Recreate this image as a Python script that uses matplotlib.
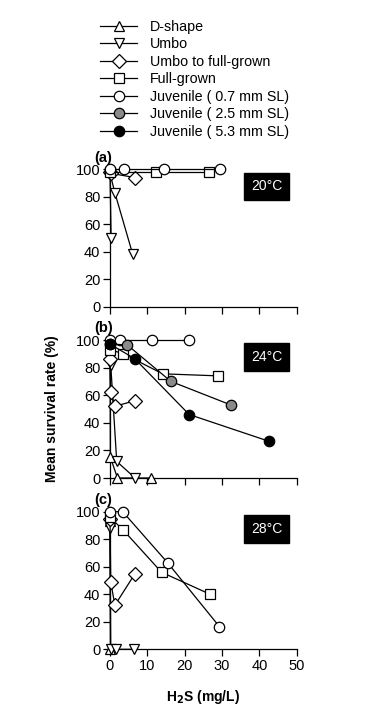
import matplotlib
matplotlib.use("Agg")
import matplotlib.pyplot as plt
from matplotlib.lines import Line2D

plt.rcParams['font.family'] = ['Liberation Sans', 'DejaVu Sans']

# ---------------- data ----------------
stage_labels = ["D-shape", "Umbo", "Umbo to full-grown", "Full-grown",
                "Juvenile ( 0.7 mm SL)", "Juvenile ( 2.5 mm SL)", "Juvenile ( 5.3 mm SL)"]
temps = ["20°C", "24°C", "28°C"]
panel_tags = ["(a)", "(b)", "(c)"]
x_ticks = [0, 10, 20, 30, 40, 50]
y_ticks = [0, 20, 40, 60, 80, 100]

# panel (a) 20°C
a_umbo1_x = [0, 0.3];            a_umbo1_y = [97, 50]
a_umbo2_x = [0, 1.3, 6.1];       a_umbo2_y = [97, 83, 38]
a_ufg_x = [0, 0.3, 6.7];         a_ufg_y = [98, 97, 94]
a_full_x = [0, 12.3, 26.6];      a_full_y = [98, 98, 98]
a_j07_x = [0, 3.7, 14.5, 29.5];  a_j07_y = [100, 100, 100, 100]

# panel (b) 24°C
b_dsh_x = [0, 0.1, 2.0, 10.9];   b_dsh_y = [95, 15, 0, 0]
b_umbo_x = [0, 0.2, 1.8, 6.7];   b_umbo_y = [95, 82, 12, 0]
b_ufg_x = [0, 0.2, 1.3, 6.7];    b_ufg_y = [86, 62, 52, 56]
b_full_x = [0, 3.6, 14.1, 29.0]; b_full_y = [93, 90, 75.5, 74]
b_j07_x = [0, 2.7, 11.2, 21.2];  b_j07_y = [100, 100, 100, 100]
b_j25_x = [0, 4.6, 16.3, 32.3];  b_j25_y = [97, 96.5, 70, 53]
b_j53_x = [0, 6.6, 21.2, 42.7];  b_j53_y = [97, 86.5, 46, 26.5]

# panel (c) 28°C
c_dsh_x = [0, 0.1];              c_dsh_y = [93, 0]
c_umbo_x = [0, 0.2, 1.6, 6.4];   c_umbo_y = [88, 0, 0, 0]
c_ufg_x = [0, 0.2, 1.3, 6.7];    c_ufg_y = [95, 49, 32, 55]
c_full_x = [0, 3.6, 13.8, 26.8]; c_full_y = [96, 86.5, 56, 40]
c_j07_x = [0, 3.4, 15.4, 29.3];  c_j07_y = [100, 100, 63, 16.5]

# ---------------- styles ----------------
GRAY = "#8a8a8a"
styles = {
    "dsh":  dict(marker="^", mfc="white", ms=7.5),
    "umbo": dict(marker="v", mfc="white", ms=7.5),
    "ufg":  dict(marker="D", mfc="white", ms=7),
    "full": dict(marker="s", mfc="white", ms=7),
    "j07":  dict(marker="o", mfc="white", ms=7.5),
    "j25":  dict(marker="o", mfc=GRAY, ms=7.5),
    "j53":  dict(marker="o", mfc="black", ms=7.5),
}
order = ["dsh", "umbo", "ufg", "full", "j07", "j25", "j53"]

panels = [
    [("umbo", a_umbo1_x, a_umbo1_y), ("umbo", a_umbo2_x, a_umbo2_y),
     ("ufg", a_ufg_x, a_ufg_y), ("full", a_full_x, a_full_y), ("j07", a_j07_x, a_j07_y)],
    [("dsh", b_dsh_x, b_dsh_y), ("umbo", b_umbo_x, b_umbo_y), ("ufg", b_ufg_x, b_ufg_y),
     ("full", b_full_x, b_full_y), ("j07", b_j07_x, b_j07_y), ("j25", b_j25_x, b_j25_y),
     ("j53", b_j53_x, b_j53_y)],
    [("dsh", c_dsh_x, c_dsh_y), ("umbo", c_umbo_x, c_umbo_y), ("ufg", c_ufg_x, c_ufg_y),
     ("full", c_full_x, c_full_y), ("j07", c_j07_x, c_j07_y)],
]

fig = plt.figure(figsize=(3.72, 7.10), dpi=100)
W, H = 372, 710
x0_px, x1_px = 110, 296.7
panel_px = [(169.3, 306.7), (340, 478), (511.7, 649.3)]

for i, (top, bot) in enumerate(panel_px):
    ax = fig.add_axes([x0_px / W, 1 - bot / H, (x1_px - x0_px) / W, (bot - top) / H])
    for key, xs, ys in panels[i]:
        st = styles[key]
        ax.plot(xs, ys, color="black", lw=0.9, marker=st["marker"], ms=st["ms"],
                mfc=st["mfc"], mec="black", mew=0.9, clip_on=False, zorder=3)
    ax.set_xlim(0, 50)
    ax.set_ylim(0, 100)
    ax.set_xticks(x_ticks)
    ax.set_yticks(y_ticks)
    ax.spines["top"].set_visible(False)
    ax.spines["right"].set_visible(False)
    for s in ("left", "bottom"):
        ax.spines[s].set_linewidth(0.9)
    ax.tick_params(direction="out", length=5, width=0.9, labelsize=10.5, pad=2)
    if i < 2:
        ax.set_xticklabels([])
    else:
        ax.set_xlabel("H$_\\mathbf{2}$S (mg/L)", fontsize=10, fontweight="bold", labelpad=11)
    ax.text(-0.085, 1.085, panel_tags[i], transform=ax.transAxes, fontsize=10.5,
            fontweight="bold", ha="left", va="center")
    ax.text(0.84, 0.875, temps[i], transform=ax.transAxes, color="white", fontsize=10,
            ha="center", va="center",
            bbox=dict(boxstyle="square,pad=0.5", fc="black", ec="black"))
    if i == 1:
        ax.set_ylabel("Mean survival rate (%)", fontsize=10, fontweight="bold", labelpad=12)

handles = [Line2D([], [], color="black", lw=0.9, marker=styles[k]["marker"],
                  ms=styles[k]["ms"], mfc=styles[k]["mfc"], mec="black", mew=0.9)
           for k in order]
fig.legend(handles, stage_labels, loc="upper left", bbox_to_anchor=(100 / W, 1 - 20 / H),
           frameon=False, fontsize=10.3, handlelength=2.6, handletextpad=0.9,
           labelspacing=0.24, borderpad=0, borderaxespad=0)

fig.savefig("out.png", dpi=100)
